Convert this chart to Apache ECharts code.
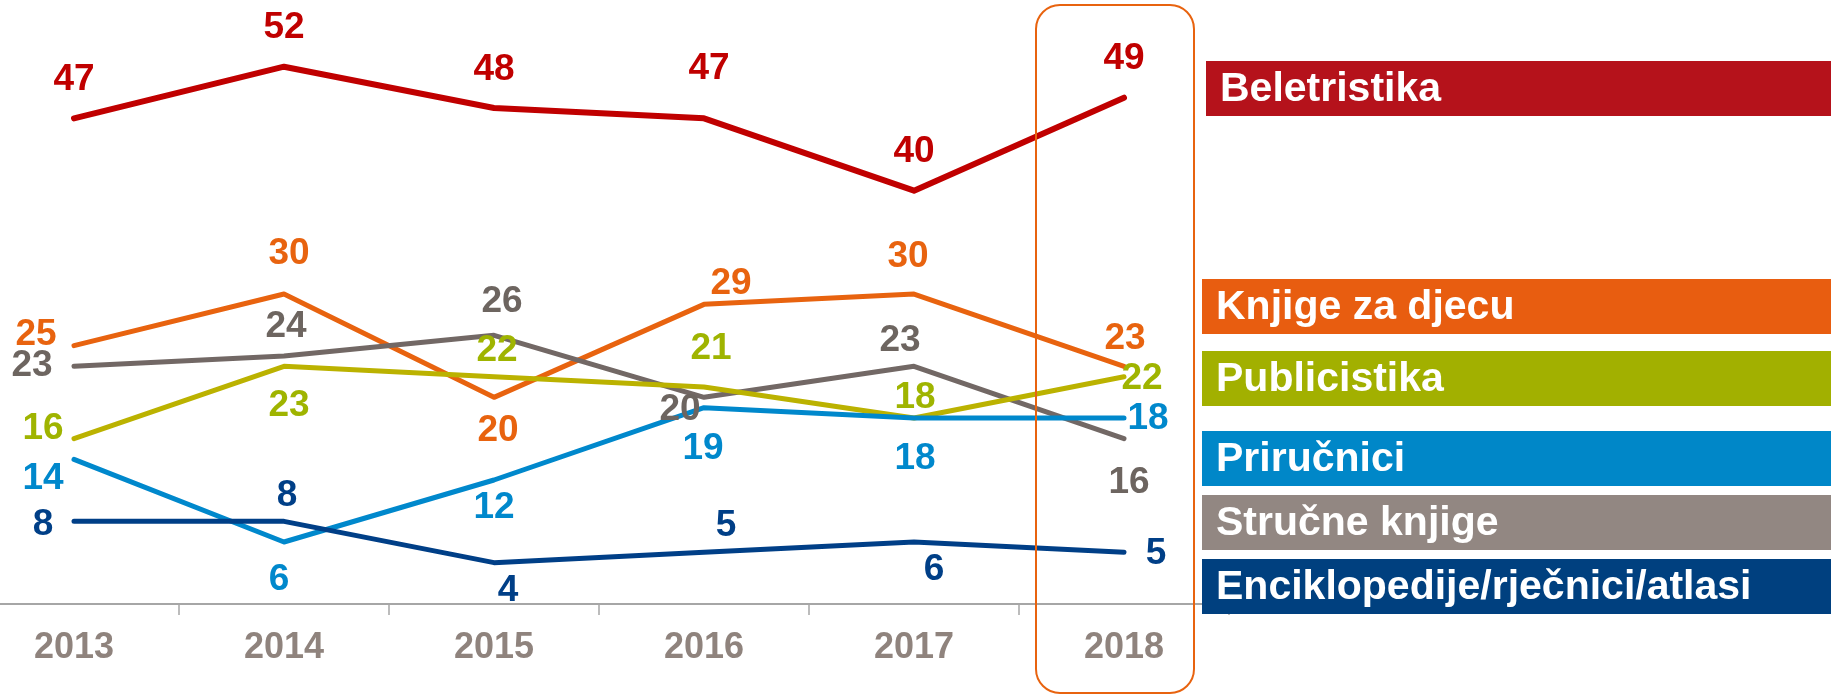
<!DOCTYPE html>
<html>
<head>
<meta charset="utf-8">
<script src="https://cdn.jsdelivr.net/npm/echarts@6/dist/echarts.min.js"></script>
<style>
  html, body { margin: 0; padding: 0; background: #fff; }
  #chart { width: 1831px; height: 695px; }
</style>
</head>
<body>
<div id="chart"></div>
<script>
// godine
var years = ['2013', '2014', '2015', '2016', '2017', '2018'];

// vrijednosti po kategoriji
var beletristika  = [47, 52, 48, 47, 40, 49];
var knjigeZaDjecu = [25, 30, 20, 29, 30, 23];
var publicistika  = [16, 23, 22, 21, 18, 22];
var prirucnici    = [14, 6, 12, 19, 18, 18];
var strucne       = [23, 24, 26, 20, 23, 16];
var enciklopedije = [8, 8, 4, 5, 6, 5];

var names = ['Beletristika', 'Knjige za djecu', 'Publicistika', 'Priručnici', 'Stručne knjige', 'Enciklopedije/rječnici/atlasi'];

// pomak oznaka od tocke (px)
var shifts = [
  [[0,-39],[0,-39],[0,-38],[5,-50],[0,-39],[0,-39]],
  [[-38,-11],[5,-40],[4,33],[27,-21],[-6,-37],[1,-28]],
  [[-31,-10],[5,39],[3,-26],[7,-38],[1,-20],[18,2]],
  [[-31,19],[-5,38],[0,28],[-1,41],[1,41],[24,1]],
  [[-42,-1],[2,-29],[8,-34],[-24,12],[-14,-26],[5,44]],
  [[-31,3],[3,-26],[14,28],[22,-27],[20,28],[32,1]]
];

var lineColors  = ['#c00000', '#e8630f', '#bbb200', '#0088cc', '#726865', '#003f87'];
var labelColors = ['#c00000', '#e8630f', '#9fb400', '#0088cc', '#6d6560', '#003f87'];
var boxColors   = ['#b5121b', '#e85d10', '#a2b000', '#0087c8', '#928782', '#00407f'];
var boxTops     = [61, 279, 351, 431, 495, 559];
var lineWidths  = [6, 5, 5, 5, 5, 5];
var values = [beletristika, knjigeZaDjecu, publicistika, prirucnici, strucne, enciklopedije];

// redoslijed crtanja (zadnji je na vrhu)
var drawOrder = [0, 1, 4, 2, 3, 5];

var chart = echarts.init(document.getElementById('chart'));

var series = [];
drawOrder.forEach(function (k) {
  series.push({
    name: names[k],
    type: 'line',
    data: values[k].map(function (v, i) {
      return { value: v, label: { offset: shifts[k][i] } };
    }),
    symbol: 'circle',
    symbolSize: 1,
    showSymbol: true,
    itemStyle: { color: 'rgba(0,0,0,0)' },
    lineStyle: { color: lineColors[k], width: lineWidths[k], cap: 'round', join: 'round' },
    label: {
      show: true,
      position: 'inside',
      color: labelColors[k],
      fontFamily: 'Liberation Sans',
      fontWeight: 'bold',
      fontSize: 37
    },
    silent: true
  });
});

var graphics = [];
// okvir oko 2018
graphics.push({
  type: 'rect',
  z: 100,
  shape: { x: 1036, y: 5, width: 158, height: 688, r: 24 },
  style: { fill: 'none', stroke: '#e8630f', lineWidth: 2 }
});
// legenda
for (var i = 0; i < names.length; i++) {
  var bx = i === 0 ? 1206 : 1202;
  graphics.push({
    type: 'rect',
    z: 100,
    shape: { x: bx, y: boxTops[i], width: 1831 - bx, height: 55 },
    style: { fill: boxColors[i] }
  });
  graphics.push({
    type: 'text',
    z: 101,
    x: bx + 14,
    y: boxTops[i] + 28.5,
    style: {
      text: names[i],
      fill: '#ffffff',
      font: 'bold 41px "Liberation Sans"',
      textVerticalAlign: 'middle'
    }
  });
}

var option = {
  animation: false,
  grid: {
    left: -31,
    width: 1260,
    top: 35.7,
    height: 568.3,
    containLabel: false,
    outerBoundsMode: 'none'
  },
  xAxis: {
    type: 'category',
    data: years,
    boundaryGap: true,
    axisLine: { lineStyle: { color: '#a6a6a6', width: 2 } },
    axisTick: { show: true, length: 11, lineStyle: { color: '#a6a6a6', width: 1.5 } },
    axisLabel: {
      margin: 26,
      color: '#8f837d',
      fontFamily: 'Liberation Sans',
      fontWeight: 'bold',
      fontSize: 36
    }
  },
  yAxis: {
    type: 'value',
    min: 0,
    max: 55,
    show: false,
    splitLine: { show: false }
  },
  series: series,
  graphic: graphics
};

chart.setOption(option);
</script>
</body>
</html>
